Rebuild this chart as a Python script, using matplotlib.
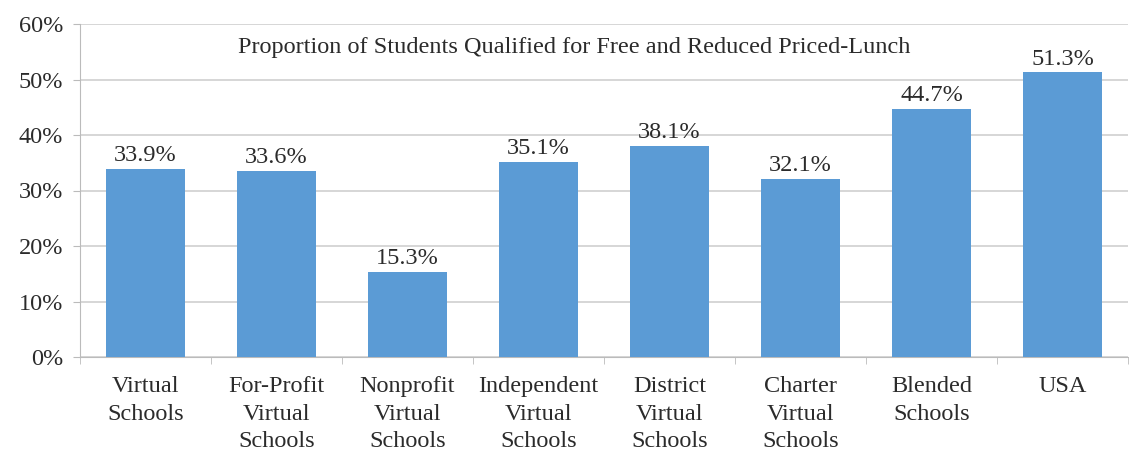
import matplotlib
matplotlib.use("Agg")
import matplotlib.pyplot as plt
import numpy as np

categories = ["Virtual\nSchools", "For-Profit\nVirtual\nSchools", "Nonprofit\nVirtual\nSchools",
              "Independent\nVirtual\nSchools", "District\nVirtual\nSchools", "Charter\nVirtual\nSchools",
              "Blended\nSchools", "USA"]
values = [33.9, 33.6, 15.3, 35.1, 38.1, 32.1, 44.7, 51.3]
title = "Proportion of Students Qualified for Free and Reduced Priced-Lunch"

plt.rcParams["font.family"] = ["Liberation Serif", "DejaVu Serif"]
fs = 17.5

fig = plt.figure(figsize=(11.29, 4.53), dpi=100)
ax = fig.add_axes([80 / 1129, 96 / 453, 1048 / 1129, 333 / 453])

x = np.arange(len(values))
bars = ax.bar(x, values, width=0.6, color="#5B9BD5", zorder=3)
for xi, v in zip(x, values):
    ax.annotate("%.1f%%" % v, (xi, v), xytext=(0, 2), textcoords="offset points",
                ha="center", va="bottom", fontsize=fs, color="#2b2b2b")

ax.set_xlim(-0.5, len(values) - 0.5)
ax.set_ylim(0, 60)
ax.set_yticks(np.arange(0, 61, 10))
ax.set_yticklabels(["%d%%" % t for t in range(0, 61, 10)], fontsize=fs, color="#2b2b2b")
ax.yaxis.grid(True, color="#d0d0d0", linewidth=1.2, zorder=0)

# category labels centered, tick marks between categories
ax.set_xticks(x)
ax.set_xticklabels(categories, fontsize=fs, color="#2b2b2b", linespacing=1.4)
ax.tick_params(axis="x", length=0, pad=14)
ax.set_xticks(np.arange(-0.5, len(values), 1), minor=True)
ax.tick_params(axis="x", which="minor", length=5, color="#bbbbbb")
ax.tick_params(axis="y", length=5, color="#bbbbbb", pad=7)

for side in ["top", "right"]:
    ax.spines[side].set_visible(False)
ax.spines["left"].set_color("#bbbbbb")
ax.spines["bottom"].set_color("#bbbbbb")

fig.text(574 / 1129, 1 - 47 / 453, title, ha="center", va="center", fontsize=fs, color="#2b2b2b")

plt.savefig("out.png", dpi=100)
plt.close()
